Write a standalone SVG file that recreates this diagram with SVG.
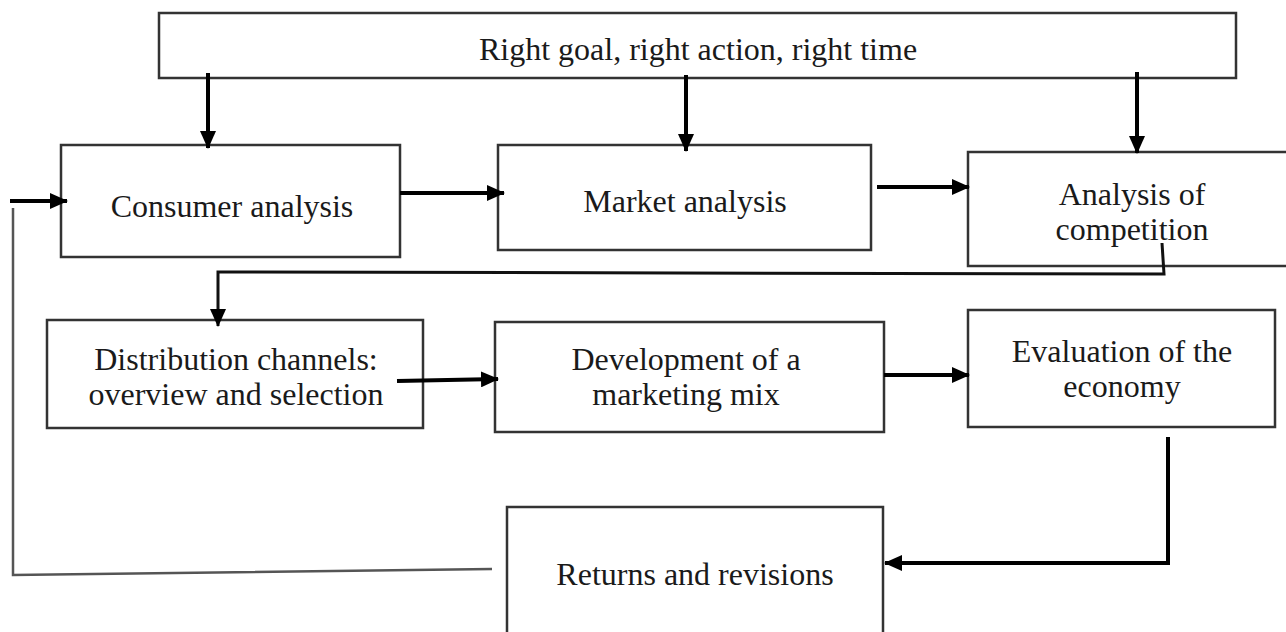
<svg xmlns="http://www.w3.org/2000/svg" width="1286" height="632" viewBox="0 0 1286 632">
  <style>
    .box { fill: #ffffff; stroke: #333333; stroke-width: 2.5; }
    .lbl { font-family: "Liberation Serif", "Times New Roman", serif; font-size: 32px; fill: #1a1a1a; text-anchor: middle; }
    .arrow { fill: none; stroke: #000000; stroke-width: 4; marker-end: url(#head); }
    .thin { fill: none; stroke: #333333; stroke-width: 2.5; }
    .thinArrow { fill: none; stroke: #111111; stroke-width: 3; marker-end: url(#head); }
    .loop { fill: none; stroke: #555555; stroke-width: 2.5; }
  </style>
  <defs>
    <marker id="head" markerUnits="userSpaceOnUse" markerWidth="18" markerHeight="16" refX="17" refY="8" orient="auto">
      <path d="M0,0 L18,8 L0,16 Z" fill="#000000"/>
    </marker>
  </defs>
  <rect width="1286" height="632" fill="#ffffff"/>

  <!-- nodes -->
  <g id="goal">
    <rect class="box" x="159" y="13" width="1077" height="65"/>
    <text class="lbl" x="698" y="60">Right goal, right action, right time</text>
  </g>
  <g id="consumer">
    <rect class="box" x="61" y="145" width="339" height="112"/>
    <text class="lbl" x="232" y="217">Consumer analysis</text>
  </g>
  <g id="market">
    <rect class="box" x="498" y="145" width="373" height="105"/>
    <text class="lbl" x="685" y="212">Market analysis</text>
  </g>
  <g id="competition">
    <rect class="box" x="968" y="152" width="330" height="114"/>
    <text class="lbl" x="1132" y="205">Analysis of</text>
    <text class="lbl" x="1132" y="240">competition</text>
  </g>
  <g id="distribution">
    <rect class="box" x="47" y="320" width="376" height="108"/>
    <text class="lbl" x="236" y="370">Distribution channels:</text>
    <text class="lbl" x="236" y="405">overview and selection</text>
  </g>
  <g id="mix">
    <rect class="box" x="495" y="322" width="389" height="110"/>
    <text class="lbl" x="686" y="370">Development of a</text>
    <text class="lbl" x="686" y="405">marketing mix</text>
  </g>
  <g id="economy">
    <rect class="box" x="968" y="310" width="307" height="117"/>
    <text class="lbl" x="1122" y="362">Evaluation of the</text>
    <text class="lbl" x="1122" y="397">economy</text>
  </g>
  <g id="returns">
    <rect class="box" x="507" y="507" width="376" height="140"/>
    <text class="lbl" x="695" y="585">Returns and revisions</text>
  </g>

  <!-- connectors -->
  <g id="connectors">
    <path class="arrow" d="M208,73 L208,148"/>
    <path class="arrow" d="M686,75 L686,151"/>
    <path class="arrow" d="M1137,72 L1137,153"/>
    <path class="arrow" d="M400,193 L504,193"/>
    <path class="arrow" d="M877,187 L969,187"/>
    <path class="arrow" d="M10,201 L67,201"/>
    <path class="thinArrow" d="M1162,243 L1164,274 L218,272 L218,326"/>
    <path class="arrow" d="M397,381 L498,379"/>
    <path class="arrow" d="M884,375 L969,375"/>
    <path class="arrow" d="M1168,437 L1168,563 L885,563"/>
    <path class="loop" d="M492,569 L13,575 L13,208"/>
  </g>
</svg>
